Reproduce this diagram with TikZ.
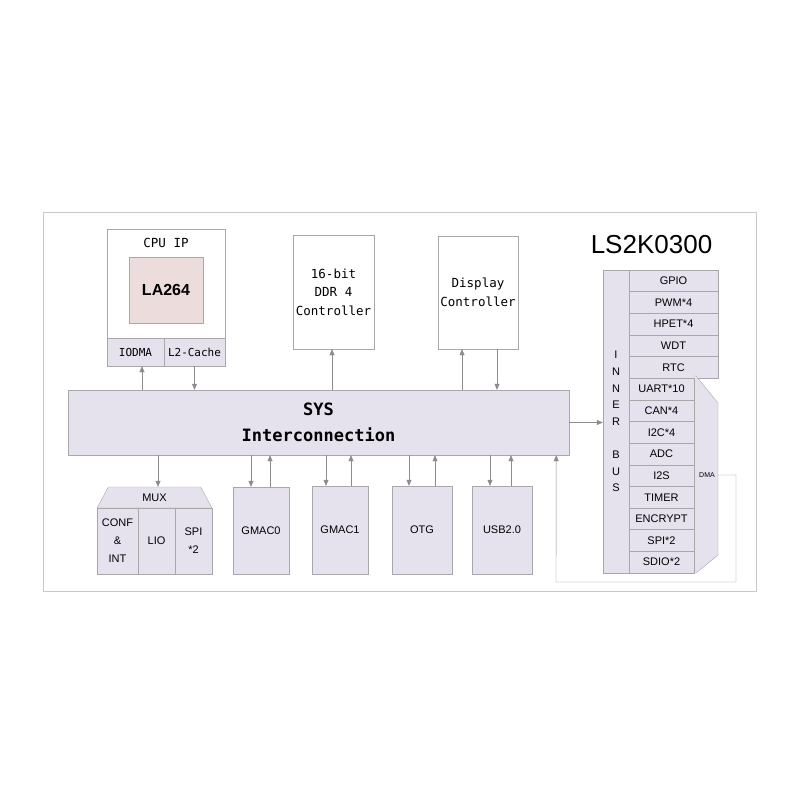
\documentclass[tikz,border=0pt]{standalone}
\usepackage{fontspec}
\setmainfont{Liberation Sans}
\newfontfamily\monofont{DejaVu Sans Mono}
\usetikzlibrary{arrows.meta,shapes.geometric}
\definecolor{boxfill}{HTML}{E5E2EE}
\definecolor{cpufill}{HTML}{EDDCDC}
\definecolor{boxline}{HTML}{A8A8A8}
\definecolor{wireline}{HTML}{8C8C8C}
\definecolor{framegray}{HTML}{C8C8C8}

\begin{document}
\begin{tikzpicture}[x=1pt,y=-1pt,
		box/.style = {draw=boxline, fill=boxfill, inner sep=0pt, align=center, font=\fontsize{11}{18}\selectfont},
		blank/.style = {draw=boxline, fill=white, inner sep=0pt, align=center, font=\monofont\fontsize{12.5}{18.5}\selectfont},
		wire/.style = {draw=wireline, -{Triangle[length=6pt,width=5pt]}}]
		\useasboundingbox (0,0) rectangle (800,800);
		\draw[framegray] (43,212) rectangle (756,591); %outer frame
		\node[font=\fontsize{26}{26}\selectfont] (title) at (651.5,245) {LS2K0300};
		
		%CPU IP on top left
		\node[blank, minimum width=118, minimum height=137] (cpu) at (166,297.5) {};
		\node[font=\monofont\fontsize{12.5}{12}\selectfont] (cputxt) at (166,243) {CPU IP};
		\node[draw=boxline, fill=cpufill, minimum width=74, minimum height=66, font=\bfseries\fontsize{16}{16}\selectfont] (la) at (166,290) {LA264};
		\node[box, minimum width=57, minimum height=28, font=\monofont\fontsize{11}{11}\selectfont] (iodma) at (135.5,352) {IODMA};
		\node[box, minimum width=61, minimum height=28, font=\monofont\fontsize{11}{11}\selectfont] (l2) at (194.5,352) {L2-Cache};
		
		%Memory and display
		\node[blank, minimum width=81, minimum height=114] (ddr) at (333.5,292) {16-bit\\DDR 4\\Controller};
		\node[blank, minimum width=80, minimum height=113] (disp) at (478,292.5) {Display\\Controller};
		
		%Interconnection in the middle
		\node[box, minimum width=501, minimum height=65, font=\monofont\bfseries\fontsize{17}{26}\selectfont] (sys) at (318.5,422.5) {SYS\\Interconnection};
		
		%Inner bus with peripherals
		\node[box, minimum width=26, minimum height=303, font=\fontsize{11}{16.6}\selectfont] (bus) at (616,421.5) {I\\N\\N\\E\\R\\ \\B\\U\\S};
		\foreach \name [count=\i] in {GPIO,PWM*4,HPET*4,WDT,RTC}
			\node[box, minimum width=89, minimum height=21.64] (p\i) at (673.5,259.18+21.64*\i) {\name};
		\fill[boxfill] (694,376) -- (696,376) -- (718,403) -- (718,555) -- (696,573) -- (694,573) -- cycle;
		\draw[boxline] (694,376) -- (696,376) -- (718,403) -- (718,555) -- (696,573) -- (694,573);
		\foreach \name [count=\i from 6] in {UART*10,CAN*4,I2C*4,ADC,I2S,TIMER,ENCRYPT,SPI*2,SDIO*2}
			\node[box, minimum width=65, minimum height=21.64] (p\i) at (661.5,259.18+21.64*\i) {\name};
		\node[font=\fontsize{7}{7}\selectfont] (dma) at (707,475) {DMA};
		\coordinate (dmaout) at (718,475);
		
		%MUX on bottom left
		\node[box, trapezium, trapezium left angle=69, trapezium right angle=69, trapezium stretches=true, minimum width=115, minimum height=21] (mux) at (154.5,497.5) {MUX};
		\node[box, minimum width=41, minimum height=66] (conf) at (117.5,541) {CONF\\\&\\INT};
		\node[box, minimum width=37, minimum height=66] (lio) at (156.5,541) {LIO};
		\node[box, minimum width=37, minimum height=66] (spi) at (193.5,541) {SPI\\*2};
		
		%Other bottom blocks
		\node[box, minimum width=56, minimum height=87] (g0) at (261,530.5) {GMAC0};
		\node[box, minimum width=56, minimum height=88] (g1) at (340,530) {GMAC1};
		\node[box, minimum width=60, minimum height=88] (otg) at (422,530) {OTG};
		\node[box, minimum width=60, minimum height=88] (usb) at (502,530) {USB2.0};
		
		%Top connectors
		\draw[wire] ([xshift=6.5pt]iodma.south |- sys.north) -- ([xshift=6.5pt]iodma.south); %to IODMA
		\draw[wire] (l2.south) -- (l2.south |- sys.north); %from L2-Cache
		\draw[wire] ([xshift=-1.5pt]ddr.south |- sys.north) -- ([xshift=-1.5pt]ddr.south); %to DDR
		\draw[wire] ([xshift=-16pt]disp.south |- sys.north) -- ([xshift=-16pt]disp.south); %to display
		\draw[wire] ([xshift=19pt]disp.south) -- ([xshift=19pt]disp.south |- sys.north); %from display
		\draw[wire] (sys.east) -- (sys.east -| bus.west); %to inner bus
		
		%Bottom connectors
		\draw[wire] ([xshift=3.5pt]mux.north |- sys.south) -- ([xshift=3.5pt]mux.north);
		\foreach \n/\d/\u in {g0/-10/9,g1/-14/11,otg/-13/13,usb/-12/9} {
			\draw[wire] ([xshift=\d pt]\n.north |- sys.south) -- ([xshift=\d pt]\n.north);
			\draw[wire] ([xshift=\u pt]\n.north) -- ([xshift=\u pt]\n.north |- sys.south);
		}
		\draw[wire] (dmaout) -- (736,475) -- (736,582) -- (556,582) -- ([xshift=-13pt]sys.south east); %DMA back
		
	\end{tikzpicture}
\end{document}
